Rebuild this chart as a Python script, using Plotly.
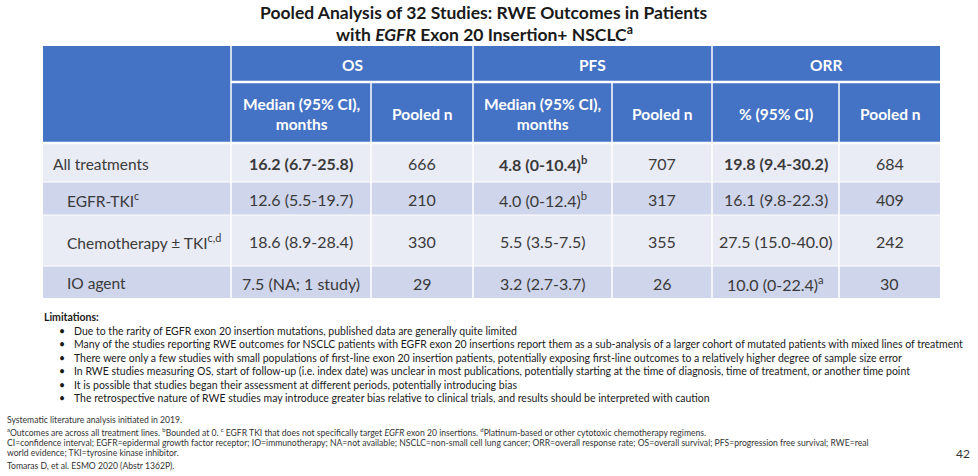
import plotly.graph_objects as go

# ---------------- data ----------------
title_lines = ["Pooled Analysis of 32 Studies: RWE Outcomes in Patients",
               "with <i>EGFR</i> Exon 20 Insertion+ NSCLC<sup>a</sup>"]
group_headers = ["OS", "PFS", "ORR"]
sub_headers = ["Median (95% CI),<br>months", "Pooled n",
               "Median (95% CI),<br>months", "Pooled n",
               "% (95% CI)", "Pooled n"]
row_labels = ["All treatments", "EGFR-TKI<sup>c</sup>",
              "Chemotherapy ± TKI<sup>c,d</sup>", "IO agent"]
os_median = ["16.2 (6.7-25.8)", "12.6 (5.5-19.7)", "18.6 (8.9-28.4)", "7.5 (NA; 1 study)"]
os_n = ["666", "210", "330", "29"]
pfs_median = ["4.8 (0-10.4)<sup>b</sup>", "4.0 (0-12.4)<sup>b</sup>", "5.5 (3.5-7.5)", "3.2 (2.7-3.7)"]
pfs_n = ["707", "317", "355", "26"]
orr_pct = ["19.8 (9.4-30.2)", "16.1 (9.8-22.3)", "27.5 (15.0-40.0)", "10.0 (0-22.4)<sup>a</sup>"]
orr_n = ["684", "409", "242", "30"]
bold_row = [True, False, False, False]

limitations_title = "Limitations:"
limitations = [
    "Due to the rarity of EGFR exon 20 insertion mutations, published data are generally quite limited",
    "Many of the studies reporting RWE outcomes for NSCLC patients with EGFR exon 20 insertions report them as a sub-analysis of a larger cohort of mutated patients with mixed lines of treatment",
    "There were only a few studies with small populations of first-line exon 20 insertion patients, potentially exposing first-line outcomes to a relatively higher degree of sample size error",
    "In RWE studies measuring OS, start of follow-up (i.e. index date) was unclear in most publications, potentially starting at the time of diagnosis, time of treatment, or another time point",
    "It is possible that studies began their assessment at different periods, potentially introducing bias",
    "The retrospective nature of RWE studies may introduce greater bias relative to clinical trials, and results should be interpreted with caution",
]
footnotes = [
    "Systematic literature analysis initiated in 2019.",
    "<sup>a</sup>Outcomes are across all treatment lines. <sup>b</sup>Bounded at 0. <sup>c</sup> EGFR TKI that does not specifically target <i>EGFR</i> exon 20 insertions. <sup>d</sup>Platinum-based or other cytotoxic chemotherapy regimens.",
    "CI=confidence interval; EGFR=epidermal growth factor receptor; IO=immunotherapy; NA=not available; NSCLC=non-small cell lung cancer; ORR=overall response rate; OS=overall survival; PFS=progression free survival; RWE=real",
    "world evidence; TKI=tyrosine kinase inhibitor.",
    "Tomaras D, et al. ESMO 2020 (Abstr 1362P).",
]
page_number = "42"

# ---------------- layout constants ----------------
W, H = 978, 476
FONT = "Lato"
BLUE = "#4472C4"
LIGHT = "#E9EBF5"
DARK = "#CFD5EA"
TXT = "#3a3a3a"

col_x = [43, 231, 371, 473, 612, 712, 839, 940]
hdr_y = [46, 82, 143]
row_y = [143, 182, 215, 266, 298]

shapes = []
ann = []

def rect(x0, x1, y0, y1, color):
    shapes.append(dict(type="rect", xref="x", yref="y", x0=x0, x1=x1, y0=y0, y1=y1,
                       fillcolor=color, line=dict(width=0), layer="below"))

def line(x0, y0, x1, y1, color="white", w=1.5):
    shapes.append(dict(type="line", xref="x", yref="y", x0=x0, y0=y0, x1=x1, y1=y1,
                       line=dict(color=color, width=w)))

def text(x, y, s, size, color=TXT, bold=False, xanchor="center", yanchor="middle"):
    if bold:
        s = "<b>" + s + "</b>"
    ann.append(dict(x=x, y=y, xref="x", yref="y", text=s, showarrow=False,
                    xanchor=xanchor, yanchor=yanchor,
                    font=dict(family=FONT, size=size, color=color)))

# header background
rect(col_x[0], col_x[-1], hdr_y[0], hdr_y[2], BLUE)
# body rows
for i in range(len(row_labels)):
    rect(col_x[0], col_x[-1], row_y[i], row_y[i + 1], LIGHT if i % 2 == 0 else DARK)

# grid lines
for g in range(3):
    line(col_x[1 + 2 * g], hdr_y[0], col_x[1 + 2 * g], row_y[-1])
line(col_x[1], hdr_y[1], col_x[-1], hdr_y[1], w=2.5)
for k in (2, 4, 6):
    line(col_x[k], hdr_y[1], col_x[k], row_y[-1])
line(col_x[0], hdr_y[2], col_x[-1], hdr_y[2], w=2.5)
for y in row_y[1:-1]:
    line(col_x[0], y, col_x[-1], y, w=1)

# headers
for g, h in enumerate(group_headers):
    text((col_x[1 + 2 * g] + col_x[3 + 2 * g]) / 2, (hdr_y[0] + hdr_y[1]) / 2 + 1, h, 15.5, "white", True)
for k, h in enumerate(sub_headers):
    text((col_x[1 + k] + col_x[2 + k]) / 2, (hdr_y[1] + hdr_y[2]) / 2 + 1, h, 15.5, "white", True)

# body
cols = [os_median, os_n, pfs_median, pfs_n, orr_pct, orr_n]
bold_cols = [True, False, True, False, True, False]
for i, lab in enumerate(row_labels):
    yc = (row_y[i] + row_y[i + 1]) / 2 + 1
    text(51 if i == 0 else 65, yc, lab, 15.5, xanchor="left")
    for k, c in enumerate(cols):
        text((col_x[1 + k] + col_x[2 + k]) / 2, yc, c[i], 16, bold=bold_row[i] and bold_cols[k])

# title
text(W / 2 - 5, 12, title_lines[0], 17.5, "#1a1a1a", True)
text(W / 2 - 5, 33, title_lines[1], 17.5, "#1a1a1a", True)

# limitations
text(42, 317, limitations_title, 10.5, "#1a1a1a", True, xanchor="left")
for j, s in enumerate(limitations):
    y = 331 + j * 13.4
    text(57, y, "•", 10.5, "#1a1a1a", xanchor="left")
    text(72, y, s, 10.5, "#1a1a1a", xanchor="left")

# footnotes
for j, (s, y) in enumerate(zip(footnotes, [420, 432, 443, 453, 466])):
    text(5, y, s, 8.6, "#333333", xanchor="left")

text(963, 453, page_number, 12, "#333333")

fig = go.Figure()
fig.update_layout(
    width=W, height=H, margin=dict(l=0, r=0, t=0, b=0),
    paper_bgcolor="white", plot_bgcolor="white",
    xaxis=dict(range=[0, W], visible=False, fixedrange=True),
    yaxis=dict(range=[H, 0], visible=False, fixedrange=True),
    shapes=shapes, annotations=ann, showlegend=False,
)
fig.write_html("out.html", config={"displayModeBar": False},
               post_script="document.body.style.margin='0px';document.body.style.overflow='hidden';")
